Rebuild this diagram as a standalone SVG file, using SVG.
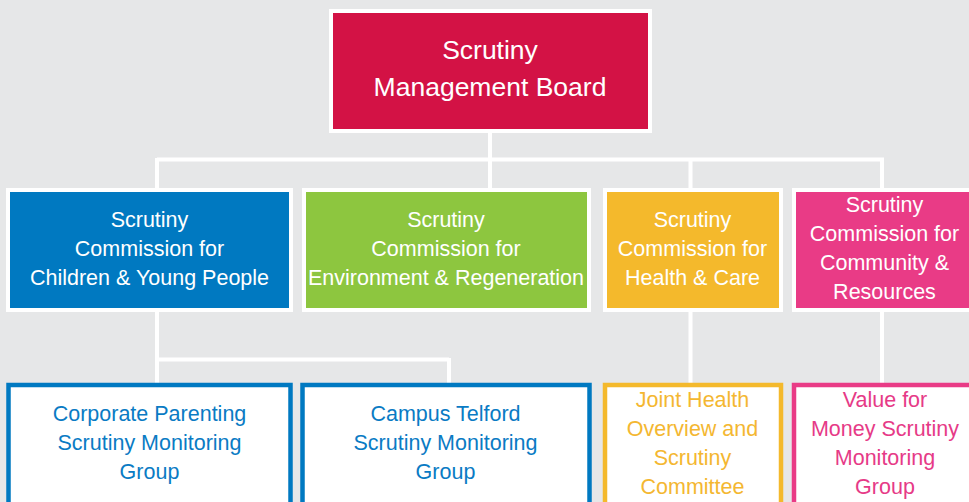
<svg xmlns="http://www.w3.org/2000/svg" width="969" height="502" viewBox="0 0 969 502">
<style>
.t{font-family:"Liberation Sans",Arial,Helvetica,sans-serif;text-anchor:middle}
.w{fill:#ffffff}
.top{font-size:26.5px}
.l2{font-size:21.5px}
.conn{stroke:#ffffff;stroke-width:4;fill:none}
.box{stroke:#ffffff;stroke-width:4}
.sub{fill:#ffffff;stroke-width:4.5}
</style>
<rect x="0" y="0" width="969" height="502" fill="#e6e7e8"/>
<g id="connectors">
<path class="conn" d="M490 133V188M157 159.5H884M157 158V188M690.5 158V188M882 158V188"/>
<path class="conn" d="M157 312V383M155 359.5H449M449 358V383M690.5 312V383M882 312V383"/>
</g>
<g id="board">
<rect class="box" x="331" y="11" width="319" height="120" fill="#d31245"/>
<text class="t w top" x="490" y="59">Scrutiny</text>
<text class="t w top" x="490" y="96">Management Board</text>
</g>
<g id="children">
<rect class="box" x="8" y="190" width="283" height="120" fill="#0079c1"/>
<text class="t w l2" x="149.5" y="226.5">Scrutiny</text>
<text class="t w l2" x="149.5" y="255.5">Commission for</text>
<text class="t w l2" x="149.5" y="284.5">Children &amp; Young People</text>
</g>
<g id="environment">
<rect class="box" x="304" y="190" width="285" height="120" fill="#8dc63f"/>
<text class="t w l2" x="446" y="226.5">Scrutiny</text>
<text class="t w l2" x="446" y="255.5">Commission for</text>
<text class="t w l2" x="446" y="284.5">Environment &amp; Regeneration</text>
</g>
<g id="health">
<rect class="box" x="605" y="190" width="176" height="120" fill="#f4b92c"/>
<text class="t w l2" x="692.5" y="226.5">Scrutiny</text>
<text class="t w l2" x="692.5" y="255.5">Commission for</text>
<text class="t w l2" x="692.5" y="284.5">Health &amp; Care</text>
</g>
<g id="community">
<rect class="box" x="794" y="190" width="185" height="120" fill="#e93b86"/>
<text class="t w l2" x="884.5" y="212">Scrutiny</text>
<text class="t w l2" x="884.5" y="241">Commission for</text>
<text class="t w l2" x="884.5" y="270">Community &amp;</text>
<text class="t w l2" x="884.5" y="299">Resources</text>
</g>
<g id="corporate-parenting">
<rect class="sub" x="8.5" y="385" width="282" height="130" stroke="#0079c1"/>
<text class="t l2" fill="#0a7bc4" x="149.5" y="421">Corporate Parenting</text>
<text class="t l2" fill="#0a7bc4" x="149.5" y="450">Scrutiny Monitoring</text>
<text class="t l2" fill="#0a7bc4" x="149.5" y="479">Group</text>
</g>
<g id="campus-telford">
<rect class="sub" x="302.5" y="385" width="287" height="130" stroke="#0079c1"/>
<text class="t l2" fill="#0a7bc4" x="445.5" y="421">Campus Telford</text>
<text class="t l2" fill="#0a7bc4" x="445.5" y="450">Scrutiny Monitoring</text>
<text class="t l2" fill="#0a7bc4" x="445.5" y="479">Group</text>
</g>
<g id="joint-health">
<rect class="sub" x="605" y="385" width="176" height="130" stroke="#f4b92c"/>
<text class="t l2" fill="#f4b731" x="692.5" y="406.5">Joint Health</text>
<text class="t l2" fill="#f4b731" x="692.5" y="435.5">Overview and</text>
<text class="t l2" fill="#f4b731" x="692.5" y="464.5">Scrutiny</text>
<text class="t l2" fill="#f4b731" x="692.5" y="493.5">Committee</text>
</g>
<g id="value-for-money">
<rect class="sub" x="794" y="385" width="185" height="130" stroke="#e93b86"/>
<text class="t l2" fill="#e63a87" x="885" y="406.5">Value for</text>
<text class="t l2" fill="#e63a87" x="885" y="435.5">Money Scrutiny</text>
<text class="t l2" fill="#e63a87" x="885" y="464.5">Monitoring</text>
<text class="t l2" fill="#e63a87" x="885" y="493.5">Group</text>
</g>
</svg>
